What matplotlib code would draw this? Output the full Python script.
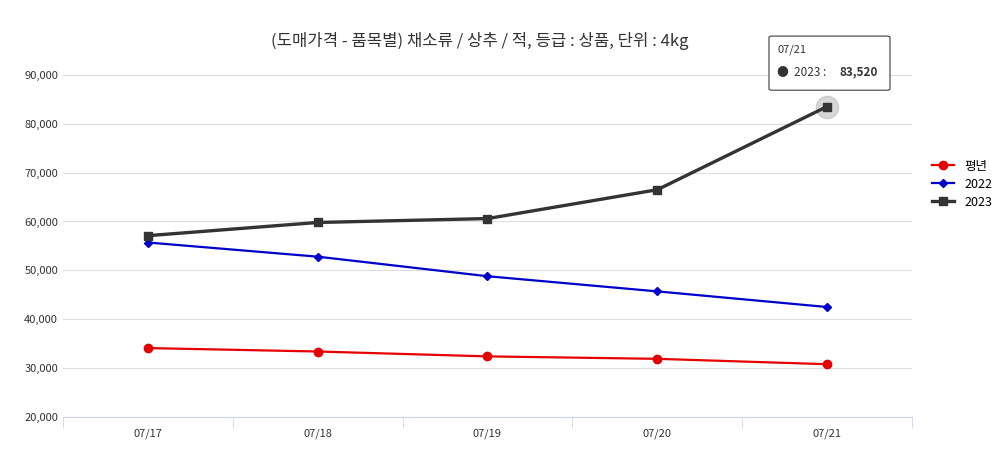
import matplotlib
matplotlib.use("Agg")
import matplotlib.pyplot as plt
from matplotlib import font_manager as fm
from matplotlib.ticker import FuncFormatter
from matplotlib.patches import FancyBboxPatch

cjk = [f.name for f in fm.fontManager.ttflist if 'CJK' in f.name]
kr = [n for n in cjk if 'KR' in n] or cjk
if not kr:
    for p in fm.findSystemFonts():
        if 'CJK' in p or 'Noto' in p and 'KR' in p:
            try:
                fm.fontManager.addfont(p)
            except Exception:
                pass
    cjk = [f.name for f in fm.fontManager.ttflist if 'CJK' in f.name]
    kr = [n for n in cjk if 'KR' in n] or cjk
plt.rcParams['font.family'] = 'sans-serif'
plt.rcParams['font.sans-serif'] = (kr[:1] if kr else []) + ['DejaVu Sans']

categories = ["07/17", "07/18", "07/19", "07/20", "07/21"]
avg = [34100, 33400, 32400, 31900, 30800]
y2022 = [55700, 52800, 48800, 45700, 42500]
y2023 = [57100, 59800, 60600, 66500, 83520]
yticks = [20000, 30000, 40000, 50000, 60000, 70000, 80000, 90000]

fig = plt.figure(figsize=(10, 4.51), dpi=100)
ax = fig.add_axes([0.063, 0.0754, 0.849, 0.7586])
x = range(len(categories))
ax.plot(x, avg, color="#e60000", marker="o", markersize=6, lw=1.6, label="평년")
ax.plot(x, y2022, color="#0000c8", marker="D", markersize=4, lw=1.6, label="2022")
ax.plot(x, y2023, color="#333333", marker="s", markersize=6, lw=2.4, label="2023")
ax.plot([4], [y2023[4]], marker="o", markersize=16, color="#bbbbbb", alpha=0.6, zorder=1)

ax.set_xlim(-0.5, 4.5)
ax.set_ylim(20000, 90000)
ax.set_yticks(yticks)
ax.yaxis.set_major_formatter(FuncFormatter(lambda v, p: f"{int(v):,}"))
ax.set_xticks(list(x))
ax.set_xticklabels(categories)
ax.set_xticks([i - 0.5 for i in range(6)], minor=True)
ax.tick_params(axis='x', which='major', length=0, labelsize=8, colors="#333333", pad=8)
ax.tick_params(axis='x', which='minor', length=8, color="#ccd6eb")
ax.tick_params(axis='y', length=0, labelsize=8, colors="#333333")
ax.grid(axis='y', color="#dddddd", lw=0.8)
for s in ['top', 'right', 'left']:
    ax.spines[s].set_visible(False)
ax.spines['bottom'].set_color("#ccd6eb")
ax.set_axisbelow(True)

fig.text(0.48, 0.91, "(도매가격 - 품목별) 채소류 / 상추 / 적, 등급 : 상품, 단위 : 4kg",
         ha='center', va='center', fontsize=12, color="#333333")
ax.legend(loc='center left', bbox_to_anchor=(1.01, 0.68), frameon=False, fontsize=9,
          handlelength=1.8, labelspacing=0.4)

fig.text(0.777, 0.89, "07/21", fontsize=8, color="#333333", va='center')
fig.text(0.777, 0.84, "●  2023 :  ", fontsize=8.5, color="#333333", va='center')
fig.text(0.839, 0.84, "83,520", fontsize=8.5, color="#333333", va='center', fontweight='bold')
fig.patches.append(FancyBboxPatch((0.769, 0.80), 0.121, 0.12, boxstyle="round,pad=0,rounding_size=0.003",
                                  transform=fig.transFigure, fc="white", ec="#333333", lw=0.8, alpha=0.95))
fig.savefig("out.png", dpi=100)
